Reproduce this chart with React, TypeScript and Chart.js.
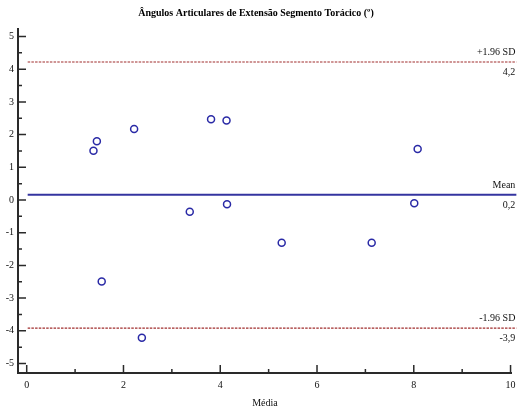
import React, { useEffect, useRef } from 'react';
import { Chart, registerables } from 'chart.js';

Chart.register(...registerables);

const TITLE = 'Ângulos Articulares de Extensão Segmento Torácico (º)';
const X_TITLE = 'Média';

// Bland-Altman points: mean (x) vs difference (y)
const meanValues = [1.38, 1.45, 2.22, 3.81, 4.13, 3.37, 4.14, 1.55, 2.38, 5.27, 7.13, 8.08, 8.01];
const diffValues = [1.51, 1.8, 2.17, 2.47, 2.43, -0.36, -0.13, -2.49, -4.21, -1.31, -1.31, 1.56, -0.1];

const MEAN_DIFF = 0.16;
const UPPER_LOA = 4.22;
const LOWER_LOA = -3.92;

const xTicks = [0, 2, 4, 6, 8, 10];
const yTicks = [-5, -4, -3, -2, -1, 0, 1, 2, 3, 4, 5];

const X_MIN = -0.18;
const X_MAX = 10.03;
const Y_MIN = -5.29;
const Y_MAX = 5.26;
const LINE_X_START = 0.02;
const LINE_X_END = 10.12;

const FONT = '"Liberation Serif", "Times New Roman", serif';
const RED = '#a02c2c';
const BLUE = '#3434a0';
const POINT = '#2a2aa6';
const AXIS = '#2a2a2a';
const TEXT = '#111';

const fmt = (v: number) => v.toFixed(1).replace('.', ',');

const axesPlugin = {
  id: 'axesPlugin',
  afterDatasetsDraw(chart: any) {
    const { ctx, chartArea, scales } = chart;
    const xs = scales.x;
    const ys = scales.y;
    ctx.save();
    ctx.strokeStyle = AXIS;
    ctx.lineWidth = 2;
    ctx.beginPath();
    ctx.moveTo(chartArea.left, chartArea.top);
    ctx.lineTo(chartArea.left, chartArea.bottom);
    ctx.lineTo(chartArea.right, chartArea.bottom);
    ctx.stroke();
    ctx.lineWidth = 1.5;
    ctx.beginPath();
    yTicks.forEach((v, i) => {
      const p = ys.getPixelForValue(v);
      ctx.moveTo(chartArea.left, p);
      ctx.lineTo(chartArea.left + 8, p);
      if (i < yTicks.length - 1) {
        const m = ys.getPixelForValue((v + yTicks[i + 1]) / 2);
        ctx.moveTo(chartArea.left, m);
        ctx.lineTo(chartArea.left + 4, m);
      }
    });
    xTicks.forEach((v, i) => {
      const p = xs.getPixelForValue(v);
      ctx.moveTo(p, chartArea.bottom);
      ctx.lineTo(p, chartArea.bottom - 8);
      if (i < xTicks.length - 1) {
        const m = xs.getPixelForValue((v + xTicks[i + 1]) / 2);
        ctx.moveTo(m, chartArea.bottom);
        ctx.lineTo(m, chartArea.bottom - 4);
      }
    });
    ctx.stroke();

    // reference line labels
    ctx.fillStyle = TEXT;
    ctx.font = `10px ${FONT}`;
    ctx.textAlign = 'right';
    ctx.textBaseline = 'middle';
    const xr = xs.getPixelForValue(LINE_X_END) - 1;
    const labels: [number, string, string][] = [
      [UPPER_LOA, '+1.96 SD', fmt(UPPER_LOA)],
      [MEAN_DIFF, 'Mean', fmt(MEAN_DIFF)],
      [LOWER_LOA, '-1.96 SD', fmt(LOWER_LOA)],
    ];
    labels.forEach(([v, top, bottom]) => {
      const p = ys.getPixelForValue(v);
      ctx.fillText(top, xr, p - 9.5);
      ctx.fillText(bottom, xr, p + 10.5);
    });
    ctx.restore();
  },
};

export default function App() {
  const ref = useRef<HTMLCanvasElement>(null);
  useEffect(() => {
    document.body.style.margin = '0';
    const canvas = ref.current;
    if (!canvas) return;
    const points = meanValues.map((x, i) => ({ x, y: diffValues[i] }));
    const hLine = (v: number) => [
      { x: LINE_X_START, y: v },
      { x: LINE_X_END, y: v },
    ];
    const chart = new Chart(canvas, {
      type: 'scatter',
      data: {
        datasets: [
          {
            type: 'line',
            data: hLine(UPPER_LOA),
            borderColor: RED,
            borderWidth: 1.2,
            borderDash: [2.5, 1.2],
            pointRadius: 0,
            clip: false,
          } as any,
          {
            type: 'line',
            data: hLine(MEAN_DIFF),
            borderColor: BLUE,
            borderWidth: 2,
            pointRadius: 0,
            clip: false,
          } as any,
          {
            type: 'line',
            data: hLine(LOWER_LOA),
            borderColor: RED,
            borderWidth: 1.2,
            borderDash: [2.5, 1.2],
            pointRadius: 0,
            clip: false,
          } as any,
          {
            type: 'scatter',
            data: points,
            borderColor: POINT,
            backgroundColor: 'rgba(255,255,255,0)',
            borderWidth: 1.5,
            pointRadius: 3.5,
          } as any,
        ],
      },
      options: {
        animation: false,
        responsive: false,
        layout: { padding: { left: 0, right: 17, top: 0, bottom: 0 } },
        plugins: {
          legend: { display: false },
          tooltip: { enabled: false },
          title: {
            display: true,
            text: TITLE,
            color: '#000',
            font: { family: FONT, size: 10, weight: 'bold' },
            padding: { top: 7, bottom: 9 },
          },
        },
        scales: {
          x: {
            type: 'linear',
            min: X_MIN,
            max: X_MAX,
            grid: { display: false, drawTicks: false },
            border: { display: false },
            afterBuildTicks: (s: any) => {
              s.ticks = xTicks.map((value) => ({ value }));
            },
            afterFit: (s: any) => {
              s.height = 41;
            },
            ticks: {
              color: TEXT,
              font: { family: FONT, size: 10 },
              padding: 6,
              maxRotation: 0,
              autoSkip: false,
              callback: (v: any) => String(v),
            },
            title: {
              display: true,
              text: X_TITLE,
              color: TEXT,
              font: { family: FONT, size: 10 },
              padding: { top: 0, bottom: 5 },
            },
          },
          y: {
            type: 'linear',
            min: Y_MIN,
            max: Y_MAX,
            grid: { display: false, drawTicks: false },
            border: { display: false },
            afterBuildTicks: (s: any) => {
              s.ticks = yTicks.map((value) => ({ value }));
            },
            afterFit: (s: any) => {
              s.width = 18;
            },
            ticks: {
              color: TEXT,
              font: { family: FONT, size: 10 },
              padding: 4,
              autoSkip: false,
              callback: (v: any) => String(v),
            },
          },
        },
      },
      plugins: [axesPlugin],
    } as any);
    return () => chart.destroy();
  }, []);
  return (
    <div style={{ width: 529, height: 414 }}>
      <canvas ref={ref} width={529} height={414} style={{ width: 529, height: 414, display: 'block' }} />
    </div>
  );
}
